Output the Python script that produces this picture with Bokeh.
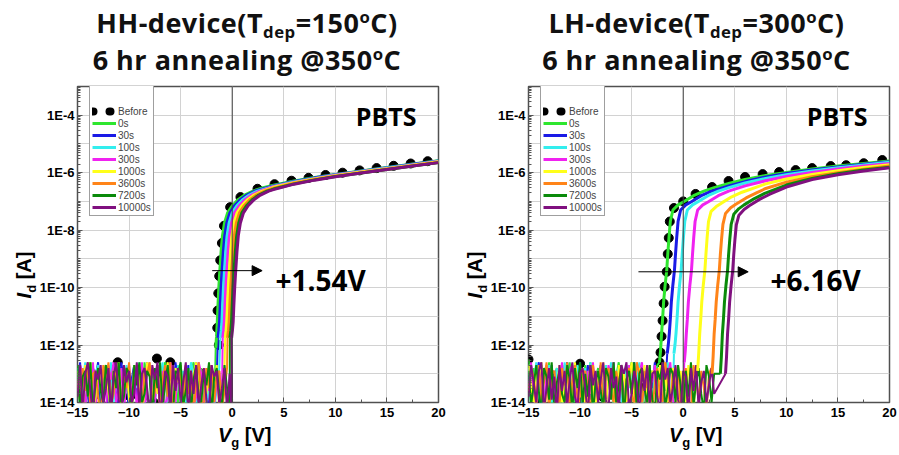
import math
import numpy as np
from bokeh.plotting import figure
from bokeh.models import (Range1d, FixedTicker, SingleIntervalTicker, CustomJSTickFormatter,
                          Span, Arrow, NormalHead, Label, Legend, LegendItem, Div)
from bokeh.layouts import row, column
from bokeh.embed import file_html
from bokeh.resources import INLINE

# ---------------- data (log10 of Id [A]) ----------------
LABELS = ["0s", "30s", "100s", "300s", "1000s", "3600s", "7200s", "10000s"]
COLORS = ["#2ee62e", "#1a1ae6", "#33eeee", "#f022f0", "#ffff1a", "#ff8418", "#0a8a0a", "#80107f"]

# gate-voltage sweep of the off-state (noise floor) part: -15 V ... 3.5 V in 0.25 V steps
NOISE_VG = [-15.0 + 0.25 * i for i in range(75)]

# ---- HH-device: off-state noise ----
hh_noise_0s = [-12.7,-13.9,-12.9,-14.4,-13.1,-12.6,-14.0,-13.3,-12.8,-14.6,
               -13.0,-12.7,-13.8,-14.3,-12.9,-13.5,-12.6,-14.1,-13.2,-12.8,
               -14.5,-13.4,-12.7,-13.9,-13.0,-14.2,-12.6,-13.6,-14.4,-12.9,
               -13.3,-12.7,-14.0,-13.1,-12.6,-14.5,-13.7,-12.8,-13.2,-14.1,
               -12.7,-13.6,-14.4,-12.9,-13.0,-12.6,-14.2,-13.5,-12.8,-13.9,
               -14.3,-12.7,-13.4,-14.6]
hh_noise_30s = [-13.4,-12.6,-14.2,-12.9,-13.7,-14.5,-12.8,-13.1,-12.6,-14.0,
                -13.5,-12.9,-14.4,-13.0,-12.7,-13.8,-14.1,-12.6,-13.3,-12.9,
                -14.6,-13.2,-12.7,-13.9,-12.8,-14.3,-13.5,-12.6,-13.0,-14.2,
                -12.9,-13.6,-12.7,-14.4,-13.1,-12.8,-13.9,-14.5,-12.6,-13.3,
                -12.8,-14.0,-13.4,-12.7,-14.3,-13.0,-12.6,-13.7,-14.1,-12.9,
                -13.2,-14.6,-12.8,-13.5,-13.1]
hh_noise_100s = [-12.8,-14.1,-13.3,-12.6,-13.8,-12.9,-14.5,-13.0,-12.7,-13.6,
                 -14.2,-12.8,-13.4,-12.6,-14.0,-13.1,-12.9,-14.4,-13.7,-12.7,
                 -13.2,-14.6,-12.8,-13.5,-12.6,-13.9,-14.3,-13.0,-12.7,-13.6,
                 -14.1,-12.9,-13.3,-12.6,-14.5,-13.8,-12.8,-13.1,-14.0,-12.7,
                 -13.4,-12.9,-14.2,-13.6,-12.6,-13.0,-14.4,-12.8,-13.7,-12.9,
                 -14.0,-13.2,-12.7,-14.3,-13.5,-12.8]
hh_noise_300s = [-13.6,-12.7,-13.0,-14.3,-12.8,-13.9,-12.6,-14.1,-13.4,-12.9,
                 -13.7,-14.5,-12.7,-13.2,-12.6,-14.0,-13.5,-12.8,-14.4,-13.1,
                 -12.7,-13.8,-12.9,-14.2,-13.3,-12.6,-14.6,-13.0,-12.8,-13.6,
                 -14.1,-12.7,-13.4,-12.9,-14.3,-13.7,-12.6,-13.1,-14.0,-12.8,
                 -13.5,-14.4,-12.7,-13.2,-12.9,-14.2,-13.8,-12.6,-13.0,-14.5,
                 -12.8,-13.6,-12.7,-14.1,-13.3,-12.9,-13.9]
hh_noise_1000s = [-12.9,-13.5,-14.4,-12.7,-13.1,-12.6,-14.2,-13.8,-12.8,-13.3,
                  -14.0,-12.7,-13.6,-14.5,-12.9,-13.0,-12.6,-14.1,-13.4,-12.8,
                  -13.9,-14.3,-12.7,-13.2,-12.8,-14.6,-13.5,-12.6,-13.0,-14.0,
                  -12.9,-13.7,-12.7,-14.2,-13.1,-12.6,-13.8,-14.4,-12.8,-13.3,
                  -12.7,-14.1,-13.6,-12.9,-14.5,-13.0,-12.6,-13.4,-14.2,-12.8,
                  -13.7,-12.9,-14.0,-13.2,-12.7,-14.3,-13.5,-12.8]
hh_noise_3600s = [-13.2,-14.0,-12.8,-13.6,-12.6,-14.3,-13.0,-12.9,-13.8,-14.5,
                  -12.7,-13.4,-12.6,-14.1,-13.7,-12.8,-13.1,-14.4,-12.9,-13.5,
                  -12.6,-14.2,-13.3,-12.7,-13.9,-14.6,-12.8,-13.0,-12.6,-14.0,
                  -13.6,-12.9,-14.3,-13.2,-12.7,-13.8,-12.6,-14.5,-13.4,-12.8,
                  -13.1,-14.1,-12.7,-13.7,-12.9,-14.4,-13.3,-12.6,-13.9,-14.2,
                  -12.8,-13.5,-12.7,-14.0,-13.0,-12.9,-14.3,-13.6,-12.8]
hh_noise_7200s = [-12.7,-14.2,-13.1,-12.9,-13.8,-12.6,-14.4,-13.3,-12.8,-13.6,
                  -14.0,-12.7,-13.2,-14.5,-12.9,-13.5,-12.6,-14.1,-13.8,-12.8,
                  -13.0,-14.3,-12.7,-13.4,-12.6,-14.0,-13.7,-12.9,-13.1,-14.6,
                  -12.8,-13.5,-12.6,-14.2,-13.3,-12.7,-13.9,-14.4,-12.9,-13.0,
                  -12.6,-14.1,-13.6,-12.8,-14.3,-13.2,-12.7,-13.8,-14.0,-12.9,
                  -13.4,-12.6,-14.5,-13.1,-12.8,-13.7,-14.2,-12.7,-13.5,-14.4]
hh_noise_10000s = [-13.8,-12.7,-14.3,-13.0,-12.6,-13.6,-14.5,-12.9,-13.2,-12.7,
                   -14.1,-13.5,-12.8,-14.4,-13.1,-12.6,-13.9,-14.6,-12.7,-13.3,
                   -12.9,-14.0,-13.7,-12.6,-14.2,-13.0,-12.8,-13.5,-14.5,-12.7,
                   -13.2,-12.6,-14.3,-13.8,-12.9,-13.1,-14.4,-12.7,-13.6,-12.8,
                   -14.0,-13.3,-12.6,-14.6,-12.9,-13.7,-12.7,-14.2,-13.4,-12.8,
                   -13.9,-14.5,-12.7,-13.1,-12.9,-14.1,-13.5,-12.8,-14.3,-13.0,
                   -14.7]

# ---- HH-device: sub-threshold + on-state ----
hh_v_0s = [-1.6,-1.52,-1.45,-1.38,-1.3,-1.2,-1.08,-0.95,-0.75,-0.45,0.0,0.6,1.2,2.0,3.0,4.0,6.0,8.0,10.0,12.5,15.0,17.5,20.0]
hh_log_0s = [-12.1,-11.7,-11.2,-10.6,-10.0,-9.4,-8.75,-8.2,-7.75,-7.4,-7.15,-6.93,-6.78,-6.64,-6.52,-6.44,-6.29,-6.17,-6.06,-5.94,-5.82,-5.70,-5.58]
hh_v_30s = [-1.38,-1.30,-1.23,-1.16,-1.08,-0.98,-0.86,-0.73,-0.53,-0.23,0.22,0.82,1.42,2.22,4.0,6.0,8.0,10.0,12.5,15.0,17.5,20.0]
hh_log_30s = [-11.75,-11.5,-11.2,-10.6,-10.0,-9.4,-8.75,-8.2,-7.75,-7.4,-7.15,-6.93,-6.78,-6.64,-6.46,-6.31,-6.18,-6.07,-5.95,-5.83,-5.71,-5.59]
hh_v_100s = [-1.15,-1.07,-1.0,-0.93,-0.85,-0.75,-0.63,-0.5,-0.3,0.0,0.45,1.05,1.65,2.45,4.0,6.0,8.0,10.0,12.5,15.0,17.5,20.0]
hh_log_100s = [-11.75,-11.5,-11.2,-10.6,-10.0,-9.4,-8.75,-8.2,-7.75,-7.4,-7.15,-6.93,-6.78,-6.64,-6.48,-6.32,-6.20,-6.08,-5.96,-5.84,-5.72,-5.60]
hh_v_300s = [-0.92,-0.84,-0.77,-0.70,-0.62,-0.52,-0.40,-0.27,-0.07,0.23,0.68,1.28,1.88,2.68,4.0,6.0,8.0,10.0,12.5,15.0,17.5,20.0]
hh_log_300s = [-11.75,-11.5,-11.2,-10.6,-10.0,-9.4,-8.75,-8.2,-7.75,-7.4,-7.15,-6.93,-6.78,-6.64,-6.49,-6.34,-6.21,-6.09,-5.97,-5.85,-5.73,-5.61]
hh_v_1000s = [-0.68,-0.60,-0.53,-0.46,-0.38,-0.28,-0.16,-0.03,0.17,0.47,0.92,1.52,2.12,2.92,4.0,6.0,8.0,10.0,12.5,15.0,17.5,20.0]
hh_log_1000s = [-11.75,-11.5,-11.2,-10.6,-10.0,-9.4,-8.75,-8.2,-7.75,-7.4,-7.15,-6.93,-6.78,-6.64,-6.51,-6.35,-6.22,-6.11,-5.98,-5.86,-5.74,-5.62]
hh_v_3600s = [-0.45,-0.37,-0.30,-0.23,-0.15,-0.05,0.07,0.20,0.40,0.70,1.15,1.75,2.35,3.15,4.0,6.0,8.0,10.0,12.5,15.0,17.5,20.0]
hh_log_3600s = [-11.75,-11.5,-11.2,-10.6,-10.0,-9.4,-8.75,-8.2,-7.75,-7.4,-7.15,-6.93,-6.78,-6.64,-6.54,-6.37,-6.24,-6.12,-6.00,-5.88,-5.76,-5.64]
hh_v_7200s = [-0.22,-0.14,-0.07,0.0,0.08,0.18,0.30,0.43,0.63,0.93,1.38,1.98,2.58,3.38,4.0,6.0,8.0,10.0,12.5,15.0,17.5,20.0]
hh_log_7200s = [-11.75,-11.5,-11.2,-10.6,-10.0,-9.4,-8.75,-8.2,-7.75,-7.4,-7.15,-6.93,-6.78,-6.64,-6.57,-6.39,-6.25,-6.13,-6.01,-5.89,-5.77,-5.65]
hh_v_10000s = [-0.06,0.02,0.09,0.16,0.24,0.34,0.46,0.59,0.79,1.09,1.54,2.14,2.74,3.54,4.0,6.0,8.0,10.0,12.5,15.0,17.5,20.0]
hh_log_10000s = [-11.75,-11.5,-11.2,-10.6,-10.0,-9.4,-8.75,-8.2,-7.75,-7.4,-7.15,-6.93,-6.78,-6.64,-6.59,-6.40,-6.26,-6.14,-6.01,-5.89,-5.77,-5.65]

hh_before_v = [-14.6,-13.0,-11.1,-9.9,-8.6,-7.6,-7.3,-6.0,-5.5,-4.2,-3.0,-2.0,-1.3,-1.45,-1.42,-1.35,-1.26,-1.16,-1.0,-0.8,-0.2,0.8,2.45,4.1,5.75,7.4,9.05,10.7,12.35,14.0,15.65,17.3,18.95]
hh_before_log = [-13.5,-13.7,-12.6,-13.8,-13.8,-14.0,-12.47,-12.6,-13.2,-13.4,-13.0,-13.3,-12.0,-11.4,-10.8,-10.2,-9.6,-9.05,-8.45,-7.85,-7.2,-6.85,-6.56,-6.40,-6.28,-6.18,-6.08,-6.0,-5.92,-5.84,-5.76,-5.68,-5.60]

# ---- LH-device: off-state noise ----
lh_noise_0s = [-12.5,-13.6,-12.8,-14.3,-13.0,-12.7,-14.0,-13.4,-12.6,-14.5,
               -13.1,-12.8,-13.9,-14.2,-12.7,-13.3,-12.6,-14.4,-13.7,-12.9,
               -13.0,-14.1,-12.7,-13.5,-12.6,-14.6,-13.2,-12.8,-13.8,-14.0,
               -12.7,-13.4,-12.9,-14.3,-13.1,-12.6,-13.6,-14.5,-12.8,-13.0,
               -12.6,-14.2,-13.5,-12.7,-13.9,-14.4,-12.8,-13.2,-12.9,-13.7,
               -12.7]
lh_noise_30s = [-13.3,-12.7,-14.2,-13.0,-12.6,-13.8,-14.5,-12.9,-13.4,-12.7,
                -14.0,-13.6,-12.8,-14.4,-13.1,-12.6,-13.7,-14.1,-12.9,-13.3,
                -12.6,-14.3,-13.5,-12.7,-13.9,-12.8,-14.6,-13.2,-12.7,-13.0,
                -14.2,-12.9,-13.6,-12.6,-14.0,-13.4,-12.8,-13.8,-14.5,-12.7,
                -13.1,-12.6,-14.3,-13.7,-12.9,-13.2,-14.1,-12.8,-13.5,-12.6,
                -14.4,-13.0,-12.8,-13.6]
lh_noise_100s = [-12.8,-14.1,-13.4,-12.6,-13.7,-14.4,-12.9,-13.1,-12.7,-14.2,
                 -13.5,-12.8,-13.9,-14.6,-12.6,-13.3,-12.9,-14.0,-13.6,-12.7,
                 -13.0,-14.3,-12.8,-13.8,-12.6,-14.5,-13.2,-12.9,-13.7,-14.1,
                 -12.7,-13.4,-12.6,-14.2,-13.0,-12.8,-13.9,-14.4,-12.7,-13.5,
                 -12.9,-14.0,-13.3,-12.6,-14.6,-13.1,-12.8,-13.6,-14.2,-12.7,
                 -13.8,-12.9,-14.3,-13.2,-12.6,-13.5,-14.0]
lh_noise_300s = [-13.5,-12.6,-13.9,-14.3,-12.8,-13.2,-14.5,-12.7,-13.6,-13.0,
                 -12.9,-14.2,-13.4,-12.6,-13.8,-14.4,-12.9,-12.7,-13.5,-14.1,
                 -12.8,-13.3,-14.6,-12.9,-13.7,-12.6,-14.0,-13.4,-12.8,-13.9,
                 -14.3,-12.7,-13.1,-12.6,-14.5,-13.6,-12.9,-13.2,-14.1,-12.7,
                 -13.8,-12.8,-14.4,-13.0,-12.6,-13.5,-14.2,-12.9,-13.3,-12.7,
                 -14.0,-13.7,-12.8,-14.5,-13.1,-12.6,-13.9,-14.3,-12.9,-13.4,
                 -14.2]
lh_noise_1000s = [-12.7,-13.4,-14.2,-12.9,-13.1,-12.6,-14.4,-13.7,-12.8,-13.0,
                  -14.1,-13.5,-12.7,-14.5,-13.2,-12.9,-13.8,-14.0,-12.6,-13.3,
                  -13.9,-12.8,-14.3,-13.6,-12.7,-13.0,-14.6,-12.9,-13.4,-12.6,
                  -14.2,-13.1,-12.8,-13.7,-14.4,-12.7,-13.5,-12.9,-14.0,-13.2,
                  -12.6,-13.8,-14.5,-12.8,-13.3,-12.7,-14.1,-13.6,-12.9,-13.0,
                  -14.3,-12.7,-13.4,-12.6,-14.6,-13.9,-12.8,-13.1,-14.2,-12.9,
                  -13.6,-14.0,-12.7,-13.3,-14.4,-12.9]
lh_noise_3600s = [-13.6,-12.8,-13.1,-14.2,-12.7,-13.9,-13.3,-12.6,-14.4,-13.0,
                  -12.9,-13.7,-14.1,-12.8,-13.4,-12.6,-14.3,-13.2,-12.7,-13.8,
                  -14.0,-13.0,-12.9,-13.5,-14.5,-12.7,-13.3,-13.9,-12.6,-14.2,
                  -13.1,-12.8,-13.6,-14.0,-12.9,-13.4,-12.7,-14.6,-13.2,-12.8,
                  -13.7,-14.1,-12.6,-13.0,-14.3,-12.9,-13.5,-12.7,-14.4,-13.3,
                  -12.8,-13.8,-14.0,-12.6,-13.2,-14.5,-12.9,-13.6,-12.7,-14.1,
                  -13.4,-12.8,-13.9,-14.3,-12.7,-13.1,-14.0,-12.9,-13.5,-14.4,
                  -13.0,-12.8]
lh_noise_7200s = [-12.9,-14.1,-13.4,-12.7,-13.6,-14.4,-12.8,-13.1,-13.9,-12.6,
                  -14.2,-13.3,-12.9,-13.7,-14.0,-12.7,-13.2,-14.3,-12.8,-13.5,
                  -12.6,-14.1,-13.0,-13.8,-12.7,-14.4,-13.3,-12.9,-13.6,-14.2,
                  -12.8,-13.1,-13.9,-12.6,-14.0,-13.4,-12.7,-14.5,-13.2,-12.9,
                  -13.7,-12.6,-14.3,-13.0,-12.8,-13.5,-14.1,-12.7,-13.9,-14.4,
                  -12.9,-13.2,-12.6,-14.2,-13.6,-12.8,-13.0,-14.0,-12.7,-13.4,
                  -14.5,-12.9,-13.8,-12.6,-14.1,-13.3,-12.8,-13.7,-14.3,-12.7,
                  -13.1,-14.0,-13.0]
lh_noise_10000s = [-13.8,-12.7,-13.3,-14.0,-12.9,-12.6,-14.3,-13.5,-12.8,-13.9,
                   -13.1,-14.4,-12.7,-13.6,-12.9,-14.1,-13.2,-12.6,-13.8,-14.2,
                   -13.0,-12.8,-13.5,-14.5,-12.7,-13.4,-12.9,-14.0,-13.2,-12.6,
                   -13.9,-14.3,-12.8,-13.5,-13.1,-14.4,-12.7,-13.0,-12.6,-14.2,
                   -13.7,-12.9,-13.3,-14.6,-12.8,-13.6,-12.7,-14.1,-13.0,-12.9,
                   -13.8,-14.4,-12.6,-13.2,-12.8,-14.0,-13.5,-12.7,-13.9,-14.3,
                   -12.9,-13.1,-14.5,-12.8,-13.6,-12.7,-14.2,-13.3,-12.9,-14.0,
                   -13.4,-12.8,-13.7]

# ---- LH-device: sub-threshold + on-state ----
lh_v_0s = [-2.3,-2.2,-2.1,-2.0,-1.9,-1.75,-1.6,-1.5,-1.38,-1.25,-1.0,-0.5,0.0,1.0,2.0,3.0,4.5,6.0,8.0,10.0,12.5,15.0,17.5,20.0]
lh_log_0s = [-12.6,-12.2,-11.6,-11.1,-10.5,-9.9,-9.4,-8.85,-8.25,-7.7,-7.3,-7.12,-7.02,-6.80,-6.64,-6.52,-6.37,-6.24,-6.10,-5.99,-5.87,-5.77,-5.68,-5.59]
lh_v_30s = [-1.55,-1.45,-1.35,-1.25,-1.15,-1.0,-0.85,-0.75,-0.63,-0.5,-0.25,0.25,0.75,1.75,2.75,4.5,6.0,8.0,10.0,12.5,15.0,17.5,20.0]
lh_log_30s = [-12.3,-12.0,-11.6,-11.1,-10.5,-9.9,-9.4,-8.85,-8.25,-7.7,-7.3,-7.12,-7.02,-6.80,-6.64,-6.45,-6.31,-6.15,-6.03,-5.91,-5.80,-5.71,-5.62]
lh_v_100s = [-0.9,-0.8,-0.7,-0.6,-0.5,-0.35,-0.2,-0.1,0.02,0.15,0.4,0.9,1.4,2.4,3.4,4.5,6.0,8.0,10.0,12.5,15.0,17.5,20.0]
lh_log_100s = [-12.3,-12.0,-11.6,-11.1,-10.5,-9.9,-9.4,-8.85,-8.25,-7.7,-7.3,-7.12,-7.02,-6.80,-6.64,-6.51,-6.36,-6.20,-6.07,-5.94,-5.83,-5.73,-5.64]
lh_v_300s = [0.1,0.2,0.3,0.4,0.5,0.65,0.8,0.9,1.02,1.15,1.4,1.9,2.4,3.4,4.4,6.0,8.0,10.0,12.5,15.0,17.5,20.0]
lh_log_300s = [-12.6,-12.2,-11.6,-11.1,-10.5,-9.9,-9.4,-8.85,-8.25,-7.7,-7.3,-7.12,-7.02,-6.80,-6.64,-6.46,-6.28,-6.13,-5.99,-5.87,-5.77,-5.68]
lh_v_1000s = [1.4,1.5,1.6,1.7,1.8,1.95,2.1,2.2,2.32,2.45,2.7,3.2,3.7,4.7,5.7,8.0,10.0,12.5,15.0,17.5,20.0]
lh_log_1000s = [-12.9,-12.3,-11.6,-11.1,-10.5,-9.9,-9.4,-8.85,-8.25,-7.7,-7.35,-7.18,-7.06,-6.84,-6.68,-6.39,-6.22,-6.06,-5.93,-5.82,-5.72]
lh_v_3600s = [2.8,2.9,3.0,3.1,3.2,3.35,3.5,3.6,3.72,3.85,4.1,4.6,5.1,6.1,7.1,8.0,10.0,12.5,15.0,17.5,20.0]
lh_log_3600s = [-13.0,-12.4,-11.6,-11.1,-10.5,-9.9,-9.4,-8.85,-8.3,-7.8,-7.42,-7.22,-7.1,-6.88,-6.7,-6.55,-6.33,-6.14,-6.00,-5.88,-5.77]
lh_v_7200s = [3.6,3.7,3.8,3.9,4.0,4.15,4.3,4.4,4.52,4.65,4.9,5.4,5.9,6.9,7.9,10.0,12.5,15.0,17.5,20.0]
lh_log_7200s = [-13.0,-12.4,-11.6,-11.1,-10.5,-9.9,-9.4,-8.85,-8.3,-7.8,-7.45,-7.25,-7.12,-6.9,-6.72,-6.43,-6.20,-6.04,-5.91,-5.81]
lh_v_10000s = [4.1,4.2,4.3,4.4,4.5,4.65,4.8,4.9,5.02,5.15,5.4,5.9,6.4,7.4,8.4,10.0,12.5,15.0,17.5,20.0]
lh_log_10000s = [-13.0,-12.4,-11.6,-11.1,-10.5,-9.9,-9.4,-8.85,-8.3,-7.82,-7.48,-7.28,-7.15,-6.93,-6.75,-6.5,-6.24,-6.07,-5.94,-5.83]

lh_before_v = [-15.0,-14.0,-12.8,-11.9,-10.2,-10.0,-8.6,-7.8,-6.5,-5.2,-4.0,-3.0,-2.3,-2.2,-2.1,-2.0,-1.9,-1.8,-1.6,-1.5,-1.4,-1.3,-0.9,0.0,1.2,2.8,4.4,6.0,7.7,9.3,10.9,12.5,14.3,15.8,17.5,19.3]
lh_before_log = [-12.5,-13.85,-13.1,-13.75,-13.7,-12.65,-13.2,-13.8,-13.7,-13.3,-13.5,-13.1,-12.6,-12.26,-11.7,-11.15,-10.55,-9.97,-9.45,-8.83,-8.27,-7.7,-7.23,-7.0,-6.74,-6.50,-6.29,-6.15,-6.05,-5.98,-5.91,-5.84,-5.77,-5.74,-5.67,-5.56]

HH_SERIES = [(hh_noise_0s, hh_v_0s, hh_log_0s), (hh_noise_30s, hh_v_30s, hh_log_30s),
             (hh_noise_100s, hh_v_100s, hh_log_100s), (hh_noise_300s, hh_v_300s, hh_log_300s),
             (hh_noise_1000s, hh_v_1000s, hh_log_1000s), (hh_noise_3600s, hh_v_3600s, hh_log_3600s),
             (hh_noise_7200s, hh_v_7200s, hh_log_7200s), (hh_noise_10000s, hh_v_10000s, hh_log_10000s)]
LH_SERIES = [(lh_noise_0s, lh_v_0s, lh_log_0s), (lh_noise_30s, lh_v_30s, lh_log_30s),
             (lh_noise_100s, lh_v_100s, lh_log_100s), (lh_noise_300s, lh_v_300s, lh_log_300s),
             (lh_noise_1000s, lh_v_1000s, lh_log_1000s), (lh_noise_3600s, lh_v_3600s, lh_log_3600s),
             (lh_noise_7200s, lh_v_7200s, lh_log_7200s), (lh_noise_10000s, lh_v_10000s, lh_log_10000s)]

# ---------------- styling / layout ----------------
SANS = "Liberation Sans"
TITLE_FONT = "Open Sans"
TITLE_H = 80      # title strip height
FIG_H = 344       # figure height (frame 316 px + borders)
XLAB_H = 30       # x-label strip height
YLAB_W = (36, 34) # y-label strip widths (left / right panel)
SUP = '<span style="font-size:62%;position:relative;top:-0.62em">o</span>'
SUB = '<span style="font-size:62%;position:relative;top:0.32em">dep</span>'


def screen_text(p, sx, sy, text, size, style="bold", font=SANS, align="left",
                baseline="alphabetic"):
    p.add_layout(Label(x=sx, y=sy, x_units="screen", y_units="screen", text=text,
                       text_font=font, text_font_size=size, text_font_style=style,
                       text_align=align, text_baseline=baseline, text_color="black"))


def make_panel(width, bl, br, series, before_v, before_log, arrow, shift_text):
    p = figure(width=width, height=FIG_H, x_range=Range1d(-15, 20),
               y_range=Range1d(1e-14, 1e-3), y_axis_type="log",
               output_backend="svg", toolbar_location=None,
               min_border_left=bl, min_border_right=br, min_border_top=6, min_border_bottom=22,
               background_fill_color="white", border_fill_color="white")
    p.outline_line_color = "#505050"
    p.outline_line_width = 1.5

    p.xaxis.ticker = SingleIntervalTicker(interval=5, num_minor_ticks=2)
    major = [10.0 ** k for k in range(-14, -3, 2)]
    minor = [m * 10.0 ** k for k in range(-14, -3) for m in range(1, 10)]
    p.yaxis.ticker = FixedTicker(ticks=major, minor_ticks=minor)
    p.yaxis.formatter = CustomJSTickFormatter(code="return '1E' + Math.round(Math.log10(tick));")
    for ax in (p.xaxis, p.yaxis):
        ax.axis_line_color = None
        ax.major_tick_in = 5
        ax.major_tick_out = 0
        ax.minor_tick_in = 3
        ax.minor_tick_out = 0
        ax.major_tick_line_color = "#555555"
        ax.minor_tick_line_color = "#555555"
        ax.major_label_text_font = SANS
        ax.major_label_text_font_style = "bold"
        ax.major_label_text_font_size = "13px"
        ax.major_label_text_color = "black"
    p.xaxis.major_label_standoff = 5
    p.yaxis.major_label_standoff = 3

    p.xgrid.grid_line_color = "#d2d2d2"
    p.ygrid.grid_line_color = "#d2d2d2"
    p.ygrid.ticker = FixedTicker(ticks=[10.0 ** k for k in range(-14, -2)])
    p.add_layout(Span(location=0, dimension="height", line_color="#404040", line_width=1))

    p.scatter(before_v, [10.0 ** v for v in before_log], size=9, color="black")

    # off-state noise floor (thinner strokes), joined to the first point of each curve
    for (noise, v, lg), color in zip(series, COLORS):
        xs = NOISE_VG[:len(noise)] + v[:1]
        ys = [10.0 ** q for q in (noise + lg[:1])]
        p.line(xs, ys, line_color=color, line_width=2)
    # sub-threshold / on-state curves
    renderers = []
    for (noise, v, lg), color in zip(series, COLORS):
        renderers.append(p.line(v, [10.0 ** q for q in lg], line_color=color, line_width=3))

    # legend (the "Before" entry shows two dots through a dotted thick line)
    dummy = p.line(x=[-100, -99], y=[1e-20, 1e-20], line_color="black", line_width=8,
                   line_dash="1 16", line_cap="round")
    items = [LegendItem(label="Before", renderers=[dummy])]
    items += [LegendItem(label=lab, renderers=[r]) for lab, r in zip(LABELS, renderers)]
    legend = Legend(items=items, location=(12, 186), label_text_font=SANS,
                    label_text_font_size="10px", glyph_width=24, glyph_height=12,
                    label_height=12, label_standoff=2, spacing=0, padding=2, margin=0,
                    border_line_color="#404040", border_line_width=1,
                    background_fill_color="white", background_fill_alpha=1.0,
                    title=" ", title_text_font_size="14px", title_standoff=2)
    p.add_layout(legend)

    x0, x1, lg = arrow
    p.add_layout(Arrow(end=NormalHead(size=10, fill_color="black", line_color="black"),
                       x_start=x0, y_start=10.0 ** lg, x_end=x1, y_end=10.0 ** lg,
                       line_color="black", line_width=1))
    screen_text(p, shift_text[1], 123, shift_text[0], "28px", font=TITLE_FONT)
    screen_text(p, 339, 287, "PBTS", "25px", font=TITLE_FONT, align="right")
    return p


def title_div(line1, width):
    html = ('<div style="box-sizing:border-box;width:%dpx;padding-left:41px;padding-top:6px;'
            'text-align:center;font-family:\'Open Sans\';font-weight:700;font-size:27px;'
            'line-height:33px;letter-spacing:0.5px;color:#111;white-space:nowrap">'
            '%s<br>6 hr annealing @350%sC</div>' % (width, line1, SUP))
    return Div(text=html, width=width, height=TITLE_H, margin=(0, 0, 0, 0))


def xlabel_div(width, pad):
    html = ('<div style="box-sizing:border-box;width:%dpx;padding-left:%dpx;padding-top:1px;'
            'font-family:\'Liberation Sans\';font-weight:700;font-size:20px;line-height:20px;'
            'color:#000;white-space:nowrap"><i>V</i><span style="font-size:13px;position:relative;'
            'top:5px">g</span>&nbsp;[V]</div>' % (width, pad))
    return Div(text=html, width=width, height=XLAB_H, margin=(0, 0, 0, 0))


def ylabel_div(width, cx, cy):
    html = ('<div style="position:relative;width:%dpx;height:%dpx;">'
            '<div style="position:absolute;left:%dpx;top:%dpx;width:70px;height:24px;'
            'line-height:24px;text-align:center;transform:rotate(-90deg);'
            'font-family:\'Liberation Sans\';font-weight:700;font-size:20px;color:#000;'
            'white-space:nowrap"><i>I</i><span style="font-size:13px;position:relative;'
            'top:5px">d</span>&nbsp;[A]</div></div>' % (width, FIG_H, cx - 35, cy - 12))
    return Div(text=html, width=width, height=FIG_H, margin=(0, 0, 0, 0))


# left panel: column x 0..453, frame 77..438 ; right panel: column 453..899, frame 528..889
p1 = make_panel(453 - YLAB_W[0], 77 - YLAB_W[0], 15, HH_SERIES, hh_before_v, hh_before_log,
                (-1.94, 2.9, -9.41), ("+1.54V", 198))
p2 = make_panel(446 - YLAB_W[1], 528 - 453 - YLAB_W[1], 10, LH_SERIES, lh_before_v, lh_before_log,
                (-4.34, 6.3, -9.45), ("+6.16V", 242))

left = column(title_div("HH-device(T" + SUB + "=150" + SUP + "C)", 453),
              row(ylabel_div(YLAB_W[0], 24, 195), p1),
              xlabel_div(453, 218))
right = column(title_div("LH-device(T" + SUB + "=300" + SUP + "C)", 446),
               row(ylabel_div(YLAB_W[1], 22, 195), p2),
               xlabel_div(446, 216))

layout = row(left, right)
open("out.html", "w").write(file_html(layout, INLINE))
